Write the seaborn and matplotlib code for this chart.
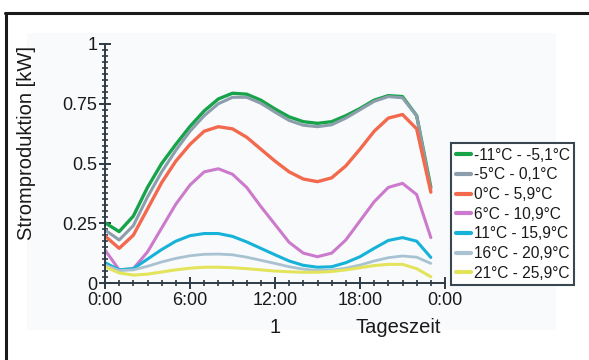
import numpy as np
import pandas as pd
import matplotlib
matplotlib.use("Agg")
import matplotlib.pyplot as plt
from matplotlib.lines import Line2D
from matplotlib.patches import Rectangle
from matplotlib.ticker import MultipleLocator, FixedLocator
import seaborn as sns

# Hour of day for each reading
hours = list(range(24))

# Mean power output [kW] per temperature band
series_labels = [
    "-11°C - -5,1°C",
    "-5°C - 0,1°C",
    "0°C - 5,9°C",
    "6°C - 10,9°C",
    "11°C - 15,9°C",
    "16°C - 20,9°C",
    "21°C - 25,9°C",
]
band_m11 = [0.252, 0.215, 0.28, 0.40, 0.50, 0.58, 0.655, 0.72, 0.77, 0.794, 0.79, 0.765,
            0.728, 0.695, 0.675, 0.668, 0.675, 0.70, 0.73, 0.765, 0.784, 0.78, 0.70, 0.40]
band_m5 = [0.222, 0.18, 0.24, 0.36, 0.465, 0.555, 0.635, 0.70, 0.75, 0.777, 0.777, 0.752,
           0.715, 0.68, 0.66, 0.654, 0.662, 0.69, 0.725, 0.76, 0.78, 0.775, 0.70, 0.39]
band_0 = [0.197, 0.145, 0.20, 0.31, 0.42, 0.51, 0.58, 0.635, 0.654, 0.645, 0.61, 0.56,
          0.51, 0.465, 0.435, 0.424, 0.44, 0.49, 0.56, 0.635, 0.69, 0.705, 0.645, 0.38]
band_6 = [0.138, 0.055, 0.06, 0.13, 0.23, 0.33, 0.41, 0.465, 0.478, 0.455, 0.40, 0.32,
          0.245, 0.17, 0.125, 0.11, 0.125, 0.18, 0.26, 0.34, 0.40, 0.417, 0.37, 0.19]
band_11 = [0.085, 0.055, 0.06, 0.10, 0.14, 0.175, 0.198, 0.207, 0.207, 0.195, 0.172, 0.145,
           0.118, 0.092, 0.074, 0.066, 0.068, 0.085, 0.11, 0.145, 0.178, 0.19, 0.175, 0.107]
band_16 = [0.075, 0.052, 0.055, 0.07, 0.088, 0.103, 0.114, 0.12, 0.121, 0.118, 0.108, 0.095,
           0.082, 0.068, 0.058, 0.052, 0.054, 0.062, 0.075, 0.092, 0.106, 0.113, 0.108, 0.082]
band_21 = [0.068, 0.042, 0.033, 0.037, 0.046, 0.055, 0.062, 0.066, 0.066, 0.064, 0.06, 0.055,
           0.05, 0.047, 0.045, 0.045, 0.048, 0.055, 0.064, 0.073, 0.078, 0.078, 0.06, 0.026]
series_values = [band_m11, band_m5, band_0, band_6, band_11, band_16, band_21]

x_tick_labels = ["0:00", "6:00", "12:00", "18:00", "0:00"]
y_tick_labels = ["0", "0.25", "0.5", "0.75", "1"]

colors = ["#17a34a", "#8c9eac", "#f2694e", "#cc7acc", "#17b2d8", "#a9c2d2", "#e3e45c"]
widths = [2.4, 2.2, 2.4, 2.2, 2.2, 2.0, 2.2]

df = pd.DataFrame({
    "Stunde": np.tile(hours, len(series_labels)),
    "Leistung": np.concatenate(series_values),
    "Temperatur": np.repeat(series_labels, len(hours)),
})

sns.set_theme(style="ticks")
plt.rcParams["font.family"] = ["Liberation Sans", "DejaVu Sans"]

fig = plt.figure(figsize=(5.89, 3.60), dpi=100)
fig.patch.set_facecolor("white")

# pale panel behind the chart and the partial outer frame
panel = Rectangle((27 / 589, 1 - 330 / 360), (556 - 27) / 589, (330 - 33) / 360,
                  transform=fig.transFigure, facecolor="#f8fafc",
                  edgecolor="none", zorder=-10)
fig.patches.append(panel)
fig.lines.append(Line2D([5 / 589, 1.0], [1 - 13 / 360, 1 - 13 / 360],
                        transform=fig.transFigure, color="#1a1a1a", lw=2.2))
fig.lines.append(Line2D([5.5 / 589, 5.5 / 589], [0.0, 1 - 13 / 360],
                        transform=fig.transFigure, color="#1a1a1a", lw=2.2))

ax = fig.add_axes([105 / 589, 1 - 283 / 360, 340 / 589, 239 / 360])
ax.set_zorder(5)
ax.patch.set_visible(False)

sns.lineplot(data=df, x="Stunde", y="Leistung", hue="Temperatur",
             hue_order=series_labels, palette=colors, ax=ax, legend=False,
             linewidth=2.3)
for line, lw in zip(ax.get_lines(), widths):
    line.set_linewidth(lw)
    line.set_solid_capstyle("round")
    line.set_solid_joinstyle("round")

ax.set_xlim(0, 24)
ax.set_ylim(0, 1)
ax.xaxis.set_major_locator(FixedLocator([0, 6, 12, 18, 24]))
ax.xaxis.set_minor_locator(MultipleLocator(1))
ax.yaxis.set_major_locator(FixedLocator([0, 0.25, 0.5, 0.75, 1]))
ax.yaxis.set_minor_locator(MultipleLocator(0.025))
ax.set_xticklabels(x_tick_labels)
ax.set_yticklabels(y_tick_labels)

spine_col = "#2e3a44"
for side in ["top", "right"]:
    ax.spines[side].set_visible(False)
for side in ["left", "bottom"]:
    ax.spines[side].set_color(spine_col)
    ax.spines[side].set_linewidth(1.4)
ax.tick_params(which="both", bottom=True, left=True, top=False, right=False)
ax.tick_params(which="major", direction="inout", length=9, width=1.4, color=spine_col,
               labelsize=13, labelcolor="#1a1a1a", pad=1)
ax.tick_params(which="minor", direction="inout", length=5, width=1.2, color=spine_col)
ax.tick_params(axis="x", which="major", pad=2)

ax.set_xlabel("")
ax.set_ylabel("Stromproduktion [kW]", fontsize=14.5, color="#1a1a1a", labelpad=6)
ax.yaxis.set_label_coords((36 - 105) / 340, (283 - 143) / 239)

ax.text(12, -0.185, "1", ha="center", va="center", fontsize=14.5, color="#1a1a1a",
        transform=ax.get_xaxis_transform())
ax.text(20.7, -0.185, "Tageszeit", ha="center", va="center", fontsize=14.5,
        color="#1a1a1a", transform=ax.get_xaxis_transform())

handles = [Line2D([], [], color=c, lw=3) for c in colors]
leg = fig.legend(handles, series_labels, loc="upper left",
                 bbox_to_anchor=(451 / 589, 1 - 143 / 360), borderaxespad=0,
                 frameon=True, fancybox=False, fontsize=11.2, handlelength=1.0,
                 handletextpad=0.15, labelspacing=0.3, borderpad=0.3)
leg.set_zorder(10)
frame = leg.get_frame()
frame.set_edgecolor("#3a4650")
frame.set_linewidth(1.5)
frame.set_facecolor("white")
frame.set_alpha(1)
for t in leg.get_texts():
    t.set_color("#1a1a1a")

fig.savefig("out.png", dpi=100)
